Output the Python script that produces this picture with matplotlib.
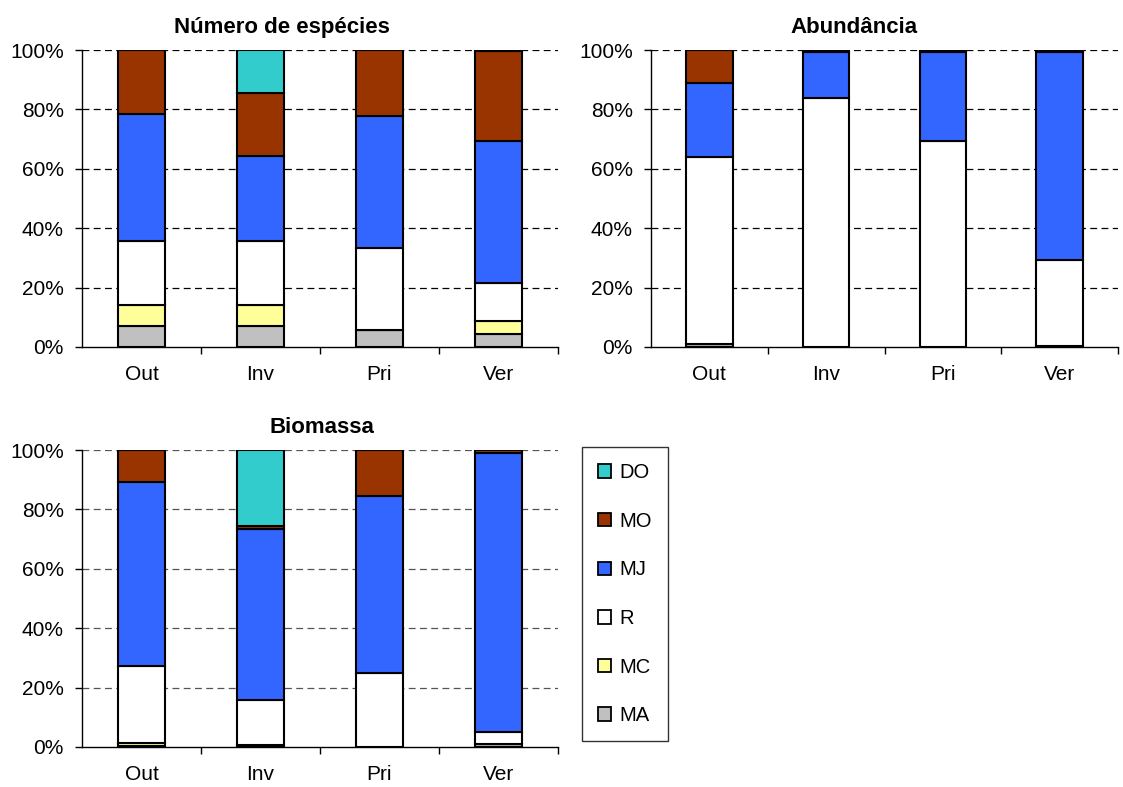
import matplotlib
matplotlib.use("Agg")
import matplotlib.pyplot as plt
from matplotlib.patches import Patch
from matplotlib.ticker import FixedLocator, FuncFormatter
import numpy as np

plt.rcParams["font.family"] = ["Liberation Sans", "DejaVu Sans"]

seasons = ["Out", "Inv", "Pri", "Ver"]
groups = ["MA", "MC", "R", "MJ", "MO", "DO"]
colors = ["#C0C0C0", "#FFFF99", "#FFFFFF", "#3366FF", "#993300", "#33CCCC"]

# Percentages per group (rows follow `groups`), columns follow `seasons`
especies = [
    [7.1, 7.1, 5.6, 4.3],     # MA
    [7.1, 7.1, 0.0, 4.3],     # MC
    [21.4, 21.4, 27.8, 13.0], # R
    [42.9, 28.6, 44.4, 47.8], # MJ
    [21.4, 21.4, 22.2, 30.4], # MO
    [0.0, 14.3, 0.0, 0.0],    # DO
]
abundancia = [
    [1.0, 0.0, 0.0, 0.5],
    [0.0, 0.0, 0.0, 0.0],
    [63.0, 83.7, 69.4, 28.8],
    [25.0, 15.5, 29.8, 70.0],
    [11.0, 0.8, 0.8, 0.7],
    [0.0, 0.0, 0.0, 0.0],
]
biomassa = [
    [0.5, 0.6, 0.0, 1.0],
    [1.0, 0.0, 0.0, 0.0],
    [25.7, 15.2, 24.9, 4.2],
    [62.0, 57.7, 59.7, 93.7],
    [10.8, 0.8, 15.4, 1.1],
    [0.0, 25.7, 0.0, 0.0],
]

W, H = 1123, 787
fig = plt.figure(figsize=(W / 100, H / 100), dpi=100)


def px_axes(left, top, right, bottom):
    return fig.add_axes([left / W, 1 - bottom / H, (right - left) / W, (bottom - top) / H])


def stacked(ax, data, title, title_x, grid_color="black"):
    x = np.arange(len(seasons))
    base = np.zeros(len(seasons))
    for vals, col in zip(data, colors):
        v = np.array(vals)
        ax.bar(x, v, bottom=base, width=0.4, color=col, edgecolor="black",
               linewidth=1.5, zorder=3)
        base += v
    ax.set_xlim(-0.5, len(seasons) - 0.5)
    ax.set_ylim(0, 100)
    ax.set_yticks(np.arange(0, 101, 20))
    ax.yaxis.set_major_formatter(FuncFormatter(lambda v, p: f"{v:.0f}%"))
    ax.set_xticks(x)
    ax.set_xticklabels(seasons)
    ax.xaxis.set_minor_locator(FixedLocator(np.arange(0.5, len(seasons), 1.0)))
    ax.tick_params(axis="x", which="major", length=0, labelsize=15, pad=13)
    ax.tick_params(axis="x", which="minor", length=5, direction="out", width=1)
    ax.tick_params(axis="y", length=5, direction="out", width=1, labelsize=15, pad=8)
    for yv in range(20, 101, 20):
        ax.axhline(yv, color=grid_color, linestyle=(0, (5.5, 3.5)), linewidth=0.9, zorder=1)
    for s in ["top", "right"]:
        ax.spines[s].set_visible(False)
    for s in ["left", "bottom"]:
        ax.spines[s].set_linewidth(1.0)
    ax.text(title_x, 1 + 17 / 297, title, transform=ax.transAxes, ha="center",
            va="baseline", fontsize=16, fontweight="bold")


ax1 = px_axes(82, 50, 558, 347)
stacked(ax1, especies, "Número de espécies", 0.419)
ax2 = px_axes(651, 50, 1118, 347)
stacked(ax2, abundancia, "Abundância", 0.434)
ax3 = px_axes(82, 450, 558, 747)
stacked(ax3, biomassa, "Biomassa", 0.505, grid_color="#555555")

handles = [Patch(facecolor=c, edgecolor="black", linewidth=1.3, label=g)
           for g, c in zip(groups[::-1], colors[::-1])]
leg = fig.legend(handles=handles, loc="upper left",
                 bbox_to_anchor=(582 / W, 1 - 447 / H), fontsize=14.5,
                 handlelength=0.65, handleheight=0.65, handletextpad=0.4,
                 labelspacing=1.47, borderpad=0.8, borderaxespad=0,
                 fancybox=False, frameon=True)
leg.get_frame().set_edgecolor("black")
leg.get_frame().set_linewidth(1.0)

fig.savefig("out.png", dpi=100)
